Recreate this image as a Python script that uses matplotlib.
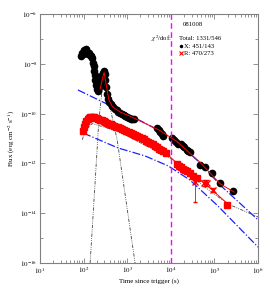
import numpy as np
import matplotlib
matplotlib.use("Agg")
import matplotlib.pyplot as plt
from matplotlib.ticker import FixedLocator, NullFormatter

plt.rcParams["font.family"] = "serif"
plt.rcParams["font.serif"] = ["Liberation Serif", "DejaVu Serif"]
plt.rcParams["mathtext.fontset"] = "stix"

# X-ray data (log10 t [s], log10 flux)
xrt_logt = [1.94, 1.96, 1.98, 2.00, 2.02, 2.03, 2.05, 2.07, 2.09, 2.10, 2.12, 2.14,
            2.16, 2.18, 2.20, 2.21, 2.23, 2.24, 2.25, 2.27, 2.28, 2.30, 2.32, 2.34,
            2.36, 2.38, 2.40, 2.42, 2.44, 2.46, 2.48, 2.50, 2.52, 2.54, 2.56, 2.59,
            2.62, 2.65, 2.68, 2.72, 2.76, 2.80, 2.84, 2.88, 2.92, 2.96, 3.00, 3.04,
            3.08, 3.12, 3.16, 3.68, 3.72, 3.76, 3.80, 3.83, 4.03, 4.08, 4.12, 4.17,
            4.23, 4.27, 4.31, 4.36, 4.40, 4.44, 4.67, 4.78, 4.94, 5.13, 5.43]
xrt_logf = [-7.70, -7.55, -7.62, -7.50, -7.45, -7.58, -7.42, -7.52, -7.55, -7.62, -7.58, -7.66,
            -7.70, -7.68, -7.78, -7.95, -8.10, -8.30, -8.45, -8.65, -8.85, -9.00, -9.10, -9.05,
            -8.95, -8.80, -8.60, -8.45, -8.35, -8.30, -8.40, -8.65, -8.95, -9.20, -9.40, -9.55,
            -9.62, -9.70, -9.72, -9.80, -9.85, -9.92, -9.98, -10.02, -10.05, -10.10, -10.12, -10.18,
            -10.20, -10.22, -10.20, -10.58, -10.66, -10.74, -10.80, -10.88, -10.98, -11.06, -11.14, -11.22,
            -11.22, -11.30, -11.36, -11.45, -11.52, -11.56, -12.06, -12.14, -12.39, -12.79, -13.11]

# R band data (log10 t [s], log10 flux)
r_logt = [1.99, 2.01, 2.03, 2.06, 2.09, 2.12, 2.15, 2.18, 2.21, 2.24, 2.27, 2.30,
          2.34, 2.38, 2.42, 2.46, 2.50, 2.54, 2.58, 2.62, 2.66, 2.70, 2.74, 2.78,
          2.83, 2.88, 2.93, 2.98, 3.03, 3.08, 3.13, 3.18, 3.23, 3.28, 3.33, 3.38,
          3.43, 3.48, 3.53, 3.58, 3.63, 3.68, 3.73, 3.78, 3.83, 3.88, 4.14, 4.19,
          4.23, 4.28, 4.33, 4.37, 4.44, 4.50, 4.60]
r_logf = [-10.70, -10.55, -10.42, -10.30, -10.22, -10.17, -10.14, -10.12, -10.14, -10.13, -10.16, -10.18,
          -10.20, -10.24, -10.27, -10.30, -10.33, -10.36, -10.40, -10.42, -10.46, -10.48, -10.52, -10.55,
          -10.58, -10.62, -10.66, -10.70, -10.73, -10.76, -10.80, -10.84, -10.89, -10.94, -10.98, -11.03,
          -11.08, -11.14, -11.19, -11.24, -11.30, -11.36, -11.41, -11.48, -11.52, -11.58, -12.02, -12.10,
          -12.16, -12.22, -12.28, -12.31, -12.39, -12.50, -12.59]
# late R points with error bars (log10 t, log10 f, lower, upper in dex)
r_late_logt = [4.56, 4.76, 4.82, 4.97]
r_late_logf = [-12.75, -12.79, -12.80, -13.07]
r_late_lo = [0.80, 0.12, 0.12, 0.08]
r_late_hi = [0.25, 0.12, 0.12, 0.08]
r_last_logt = [5.29]
r_last_logf = [-13.67]

# model components (vertices)
pl1_logt = [1.87, 3.06, 3.75, 4.14, 4.67, 5.13, 6.00]
pl1_logf = [-9.05, -10.06, -10.70, -11.14, -11.98, -12.87, -14.27]
pl2_logt = [1.99, 2.79, 3.41, 3.94, 4.44, 5.08, 6.00]
pl2_logf = [-10.78, -11.38, -11.70, -12.10, -12.67, -13.71, -15.36]
rise_logt = [2.15, 2.26, 2.35, 2.47]
rise_logf = [-16.0, -12.87, -10.26, -8.33]
decay_logt = [2.47, 2.61, 2.77, 2.97, 3.18]
decay_logf = [-8.33, -9.78, -11.06, -13.47, -16.0]
opt_logt = [1.97, 2.05, 2.20, 2.80, 3.50, 4.00, 4.74, 5.31, 6.00]
opt_logf = [-11.05, -10.62, -10.40, -10.72, -11.35, -11.80, -12.90, -13.63, -14.15]
xmod_logt = [2.38, 2.44, 2.47, 2.52, 2.58, 2.66, 2.85, 3.06, 3.75, 4.14, 4.67, 5.13, 5.45]
xmod_logf = [-9.00, -8.55, -8.35, -8.85, -9.45, -9.72, -9.95, -10.10, -10.68, -11.12, -11.96, -12.82, -13.15]
rmod_logt = [2.05, 2.15, 2.30, 3.06, 3.87, 4.26, 4.76, 5.29]
rmod_logf = [-10.45, -10.18, -10.20, -10.74, -11.56, -12.18, -12.78, -13.60]

fig = plt.figure(figsize=(2.70, 2.91), dpi=100)
ax = fig.add_axes([0.148, 0.096, 0.808, 0.856])

p = lambda v: 10 ** np.array(v)

ddot = (0, (4, 1.5, 1, 1.5, 1, 1.5))
ax.plot(p(pl1_logt), p(pl1_logf), color="#1f1fff", lw=0.9, ls="-.")
ax.plot(p(pl2_logt), p(pl2_logf), color="#1f1fff", lw=0.9, ls="-.")
for lt, lf in [(rise_logt, rise_logf), (decay_logt, decay_logf), (opt_logt, opt_logf)]:
    ax.plot(p(lt), p(lf), color="#444444", lw=0.6, ls=ddot)

ax.plot(p(r_logt), p(r_logf), ls="none", marker="s", ms=3.8, color="red", mec="red")
ax.errorbar(p(r_late_logt), p(r_late_logf),
            yerr=[p(r_late_logf) - p(np.array(r_late_logf) - r_late_lo),
                  p(np.array(r_late_logf) + r_late_hi) - p(r_late_logf)],
            fmt="x", ms=3.8, color="red", ecolor="red", elinewidth=0.6, capsize=1.2)
ax.plot(p(r_last_logt), p(r_last_logf), ls="none", marker="s", ms=4.2, color="red")
ax.plot(p(xrt_logt), p(xrt_logf), ls="none", marker="o", ms=4.5, color="black")

ax.plot(p(xmod_logt), p(xmod_logf), color="red", lw=0.7)
ax.plot(p(rmod_logt), p(rmod_logf), color="red", lw=0.7)

ax.axvline(1e4, color="#ff00ff", lw=1.0, ls=(0, (4, 2.5)))

ax.set_xscale("log")
ax.set_yscale("log")
ax.set_xlim(10, 1e6)
ax.set_ylim(1e-16, 1e-6)

ax.yaxis.set_major_locator(FixedLocator([10.0 ** e for e in range(-16, -5, 2)]))
ax.yaxis.set_minor_locator(FixedLocator([10.0 ** e for e in range(-15, -6, 2)]))
ax.yaxis.set_minor_formatter(NullFormatter())
ax.set_yticklabels([r"$10^{%d}$" % e for e in range(-16, -5, 2)])
ax.set_xticks([10.0 ** e for e in range(1, 7)])
ax.set_xticklabels([r"$10^{%d}$" % e for e in range(1, 7)])

for s in ax.spines.values():
    s.set_color("#808080")
    s.set_linewidth(0.8)
ax.tick_params(which="both", direction="in", top=True, right=True, colors="#808080",
               labelcolor="black", labelsize=5, width=0.6, pad=2)
ax.tick_params(which="major", length=3.5)
ax.tick_params(which="minor", length=2)

ax.set_xlabel("Time since trigger (s)", fontsize=5, labelpad=1.5)
ax.set_ylabel(r"Flux (erg cm$^{-2}$ s$^{-1}$)", fontsize=5, labelpad=2)

ax.text(0.70, 0.956, "081008", transform=ax.transAxes, fontsize=4.8, ha="center", va="center")
ax.text(0.605, 0.90, r"$\chi^2$/dof:", transform=ax.transAxes, fontsize=4.8, ha="right", va="center")
ax.text(0.638, 0.90, "Total: 1331/546", transform=ax.transAxes, fontsize=4.8, ha="left", va="center")
ax.plot([0.645], [0.871], transform=ax.transAxes, marker="o", ms=1.5, color="black")
ax.text(0.662, 0.871, "X: 451/143", transform=ax.transAxes, fontsize=4.8, ha="left", va="center")
ax.plot([0.645], [0.843], transform=ax.transAxes, marker="x", ms=2.5, mew=0.8, color="red")
ax.text(0.662, 0.843, "R: 470/273", transform=ax.transAxes, fontsize=4.8, ha="left", va="center")

fig.savefig("out.png", dpi=100)
